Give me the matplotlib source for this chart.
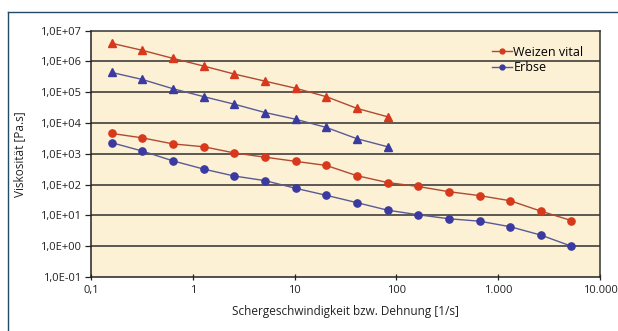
import numpy as np
import matplotlib.pyplot as plt
from matplotlib.ticker import FixedLocator, NullLocator
from matplotlib.lines import Line2D

plt.rcParams['font.family'] = ['Open Sans', 'DejaVu Sans']

# Schergeschwindigkeit / Dehnrate [1/s]
x_tri = [0.16, 0.32, 0.64, 1.28, 2.56, 5.12, 10.24, 20.48, 40.96, 81.92]
x_circ = [0.16, 0.32, 0.64, 1.28, 2.56, 5.12, 10.24, 20.48, 40.96, 81.92,
          163.84, 327.68, 655.36, 1310.72, 2621.44, 5242.88]

# Weizen vital
weizen_tri = [3.9e6, 2.3e6, 1.26e6, 7.1e5, 3.9e5, 2.3e5, 1.35e5, 7.2e4, 3.0e4, 1.6e4]
weizen_circ = [4.6e3, 3.3e3, 2.1e3, 1.7e3, 1.07e3, 7.8e2, 5.7e2, 4.2e2, 1.95e2, 1.17e2,
               87, 59, 44, 30, 13.8, 6.8]

# Erbse
erbse_tri = [4.4e5, 2.6e5, 1.3e5, 7.2e4, 4.1e4, 2.2e4, 1.33e4, 7.2e3, 3.1e3, 1.7e3]
erbse_circ = [2.3e3, 1.23e3, 5.9e2, 3.2e2, 1.9e2, 1.35e2, 76, 45, 26, 14.8,
              10.5, 7.8, 6.5, 4.3, 2.3, 1.0]

y_ticks = [1e-1, 1e0, 1e1, 1e2, 1e3, 1e4, 1e5, 1e6, 1e7]
y_labels = ['1,0E-01', '1,0E+00', '1,0E+01', '1,0E+02', '1,0E+03',
            '1,0E+04', '1,0E+05', '1,0E+06', '1,0E+07']
x_ticks = [0.1, 1, 10, 100, 1000, 10000]
x_labels = ['0,1', '1', '10', '100', '1.000', '10.000']

red_line, red_mark = '#b04a30', '#d8381c'
blue_line, blue_mark = '#5a5a96', '#3a3aa0'

fig = plt.figure(figsize=(6.18, 3.31), dpi=100)
fig.patch.set_facecolor('white')

# dünner Rahmen um das Diagramm
fig.add_artist(Line2D([7.5 / 618, 1.0], [1 - 11.5 / 331] * 2, color='#234a66', lw=1.0))
fig.add_artist(Line2D([7.5 / 618] * 2, [0, 1 - 11.5 / 331], color='#234a66', lw=1.0))

ax = fig.add_axes([91 / 618, 1 - 277 / 331, 509 / 618, (277 - 30.7) / 331])
ax.set_facecolor('#fcf0d5')
ax.set_xscale('log')
ax.set_yscale('log')
ax.set_xlim(0.1, 10000)
ax.set_ylim(1e-1, 1e7)

for yv in y_ticks[1:-1]:
    ax.axhline(yv, color='#303030', lw=1.1, zorder=1)

ax.plot(x_tri, weizen_tri, color=red_line, lw=1.0, marker='^', ms=5.5,
        mfc=red_mark, mec=red_mark, zorder=3)
ax.plot(x_tri, erbse_tri, color=blue_line, lw=1.0, marker='^', ms=5.5,
        mfc=blue_mark, mec=blue_mark, zorder=3)
ax.plot(x_circ, weizen_circ, color=red_line, lw=1.0, marker='o', ms=5.2,
        mfc=red_mark, mec=red_mark, zorder=3)
ax.plot(x_circ, erbse_circ, color=blue_line, lw=1.0, marker='o', ms=5.2,
        mfc=blue_mark, mec=blue_mark, zorder=3)

ax.xaxis.set_major_locator(FixedLocator(x_ticks))
ax.xaxis.set_minor_locator(NullLocator())
ax.set_xticklabels(x_labels)
ax.yaxis.set_major_locator(FixedLocator(y_ticks))
ax.yaxis.set_minor_locator(NullLocator())
ax.set_yticklabels(y_labels)
ax.tick_params(axis='both', labelsize=8, colors='#222222', length=4, width=0.9)
ax.tick_params(axis='x', direction='inout', pad=4)
ax.tick_params(axis='y', direction='out', pad=3)

for s in ax.spines.values():
    s.set_color('#333333')
    s.set_linewidth(1.1)
ax.spines['left'].set_color('#222222')
ax.spines['bottom'].set_color('#222222')

ax.set_xlabel('Schergeschwindigkeit bzw. Dehnung [1/s]', fontsize=8.5, color='#222222', labelpad=6)
ax.set_ylabel('Viskosität [Pa.s]', fontsize=8.5, color='#222222', labelpad=10)

handles = [Line2D([], [], color=red_line, lw=1.0, marker='o', ms=3.5, mfc=red_mark, mec=red_mark),
           Line2D([], [], color=blue_line, lw=1.0, marker='o', ms=3.5, mfc=blue_mark, mec=blue_mark)]
leg = ax.legend(handles, ['Weizen vital', 'Erbse'], loc='upper right',
                bbox_to_anchor=(0.985, 0.975), frameon=False, fontsize=9,
                handlelength=1.6, handletextpad=0.1, labelspacing=0.2, borderpad=0.2)

fig.savefig('out.png', dpi=100)
